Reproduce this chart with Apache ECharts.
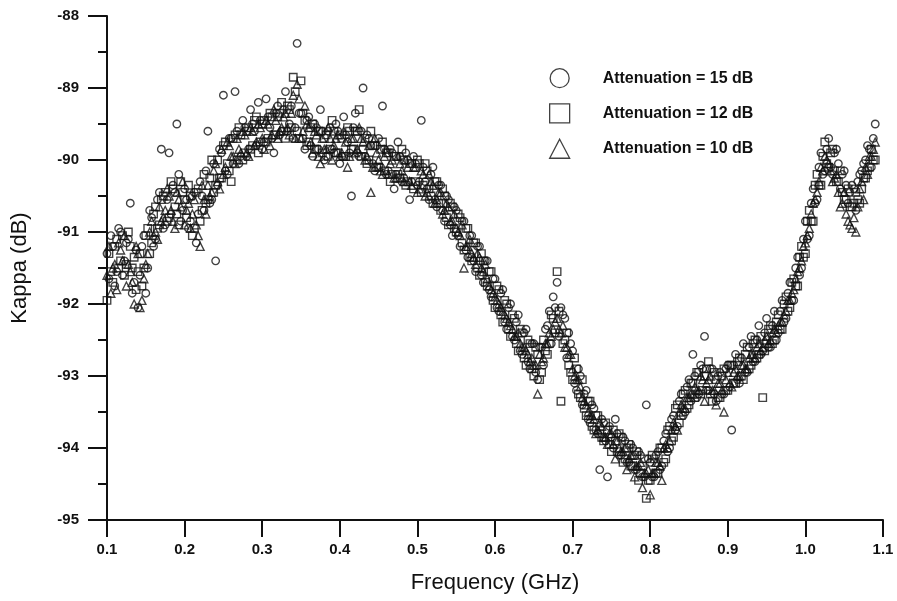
<!DOCTYPE html>
<html>
<head>
<meta charset="utf-8">
<script src="https://cdn.jsdelivr.net/npm/echarts@6/dist/echarts.min.js"></script>
<style>
  html, body { margin: 0; padding: 0; background: #fff; }
  #chart { width: 897px; height: 601px; }
</style>
</head>
<body>
<div id="chart"></div>
<script>
// frequency points (GHz)
const frequency = [
  0.100, 0.105, 0.110, 0.115, 0.120, 0.125, 0.130, 0.135, 0.140, 0.145,
  0.150, 0.155, 0.160, 0.165, 0.170, 0.175, 0.180, 0.185, 0.190, 0.195,
  0.200, 0.205, 0.210, 0.215, 0.220, 0.225, 0.230, 0.235, 0.240, 0.245,
  0.250, 0.255, 0.260, 0.265, 0.270, 0.275, 0.280, 0.285, 0.290, 0.295,
  0.300, 0.305, 0.310, 0.315, 0.320, 0.325, 0.330, 0.335, 0.340, 0.345,
  0.350, 0.355, 0.360, 0.365, 0.370, 0.375, 0.380, 0.385, 0.390, 0.395,
  0.400, 0.405, 0.410, 0.415, 0.420, 0.425, 0.430, 0.435, 0.440, 0.445,
  0.450, 0.455, 0.460, 0.465, 0.470, 0.475, 0.480, 0.485, 0.490, 0.495,
  0.500, 0.505, 0.510, 0.515, 0.520, 0.525, 0.530, 0.535, 0.540, 0.545,
  0.550, 0.555, 0.560, 0.565, 0.570, 0.575, 0.580, 0.585, 0.590, 0.595,
  0.600, 0.605, 0.610, 0.615, 0.620, 0.625, 0.630, 0.635, 0.640, 0.645,
  0.650, 0.655, 0.660, 0.665, 0.670, 0.675, 0.680, 0.685, 0.690, 0.695,
  0.700, 0.705, 0.710, 0.715, 0.720, 0.725, 0.730, 0.735, 0.740, 0.745,
  0.750, 0.755, 0.760, 0.765, 0.770, 0.775, 0.780, 0.785, 0.790, 0.795,
  0.800, 0.805, 0.810, 0.815, 0.820, 0.825, 0.830, 0.835, 0.840, 0.845,
  0.850, 0.855, 0.860, 0.865, 0.870, 0.875, 0.880, 0.885, 0.890, 0.895,
  0.900, 0.905, 0.910, 0.915, 0.920, 0.925, 0.930, 0.935, 0.940, 0.945,
  0.950, 0.955, 0.960, 0.965, 0.970, 0.975, 0.980, 0.985, 0.990, 0.995,
  1.000, 1.005, 1.010, 1.015, 1.020, 1.025, 1.030, 1.035, 1.040, 1.045,
  1.050, 1.055, 1.060, 1.065, 1.070, 1.075, 1.080, 1.085, 1.090
];

// Kappa (dB), attenuation = 15 dB (circles)
const kappa15 = [
  -91.30, -91.05, -91.75, -90.95, -91.60, -91.15, -90.60, -91.70, -92.05, -91.20,
  -91.85, -90.70, -91.20, -90.55, -89.85, -90.90, -89.90, -90.35, -89.50, -90.85,
  -90.40, -90.95, -90.50, -91.15, -90.30, -90.70, -89.60, -90.55, -91.40, -89.85,
  -89.10, -90.20, -89.70, -89.05, -90.05, -89.45, -89.95, -89.30, -89.60, -89.20,
  -89.85, -89.15, -89.55, -89.90, -89.25, -89.60, -89.05, -89.50, -89.70, -88.38,
  -89.35, -89.85, -89.40, -89.95, -89.55, -89.30, -90.00, -89.60, -89.85, -89.50,
  -90.05, -89.40, -89.75, -90.50, -89.35, -89.95, -89.00, -89.65, -89.80, -90.15,
  -89.70, -89.25, -90.20, -89.85, -90.40, -89.75, -90.30, -89.90, -90.55, -89.95,
  -90.35, -89.45, -90.30, -90.55, -90.10, -90.65, -90.35, -90.85, -90.55, -91.05,
  -90.70, -91.20, -90.85, -91.35, -91.05, -91.55, -91.20, -91.70, -91.40, -91.90,
  -91.65, -92.10, -91.80, -92.35, -92.00, -92.50, -92.15, -92.70, -92.35, -92.90,
  -92.55, -93.05, -92.60, -92.35, -92.10, -91.90, -91.70, -92.05, -92.20, -92.40,
  -92.65, -93.20, -93.00, -93.25, -93.60, -93.40, -93.75, -94.30, -93.65, -94.40,
  -93.85, -93.60, -94.10, -93.85, -94.20, -93.95, -94.30, -94.05, -94.40, -93.40,
  -94.20, -94.40, -94.05, -94.25, -93.80, -94.00, -93.55, -93.70, -93.25, -93.50,
  -93.05, -92.70, -93.30, -92.85, -92.45, -93.20, -92.90, -93.35, -92.95, -93.25,
  -92.85, -93.75, -92.70, -93.10, -92.55, -92.95, -92.45, -92.80, -92.30, -92.65,
  -92.20, -92.60, -92.10, -92.40, -91.95, -92.20, -91.70, -91.95, -91.35, -91.50,
  -90.85, -91.05, -90.40, -90.55, -89.90, -90.15, -89.70, -90.20, -89.85, -90.40,
  -90.15, -90.60, -90.35, -90.70, -90.20, -90.05, -89.80, -90.10, -89.50
];

// Kappa (dB), attenuation = 12 dB (squares)
const kappa12 = [
  -91.95, -91.55, -91.20, -91.50, -91.05, -91.45, -91.20, -91.35, -91.55, -91.75,
  -91.05, -91.30, -90.75, -90.95, -90.55, -90.45, -90.80, -90.40, -90.75, -90.30,
  -90.55, -90.35, -91.05, -90.45, -90.85, -90.20, -90.55, -90.00, -90.35, -90.25,
  -89.80, -90.05, -90.30, -89.65, -89.55, -90.00, -89.60, -89.85, -89.45, -89.90,
  -89.50, -89.75, -89.35, -89.65, -89.40, -89.20, -89.70, -89.30, -88.85, -89.60,
  -88.90, -89.45, -89.75, -89.50, -89.85, -89.60, -89.70, -89.95, -89.45, -89.90,
  -89.65, -89.95, -89.55, -89.85, -89.60, -89.30, -89.85, -90.05, -89.60, -89.80,
  -90.10, -89.75, -89.90, -90.30, -89.95, -90.20, -89.85, -90.35, -90.05, -90.40,
  -90.00, -90.45, -90.05, -90.40, -90.60, -90.30, -90.70, -90.50, -90.90, -90.65,
  -91.00, -90.80, -91.25, -90.95, -91.40, -91.15, -91.60, -91.40, -91.75, -91.55,
  -92.05, -91.80, -92.25, -92.00, -92.45, -92.20, -92.65, -92.40, -92.85, -92.55,
  -93.00, -92.70, -92.95, -92.65, -92.55, -92.20, -91.55, -93.35, -92.50, -92.85,
  -93.05, -92.90, -93.30, -93.45, -93.35, -93.70, -93.55, -93.80, -93.90, -93.75,
  -94.05, -93.90, -93.80, -94.20, -94.00, -94.25, -94.10, -94.45, -94.25, -94.70,
  -94.45, -94.15, -94.35, -94.00, -94.15, -93.70, -93.85, -93.40, -93.55, -93.20,
  -93.40, -93.10, -92.95, -93.25, -93.00, -92.80, -93.35, -93.05, -93.30, -92.90,
  -93.20, -92.85, -93.10, -92.75, -93.05, -92.60, -92.85, -92.50, -92.70, -93.30,
  -92.55, -92.30, -92.50, -92.15, -92.35, -91.90, -92.05, -91.65, -91.75, -91.20,
  -91.30, -90.70, -90.85, -90.20, -90.35, -89.75, -90.10, -89.85, -90.30, -90.15,
  -90.55, -90.40, -90.65, -90.45, -90.60, -90.25, -90.15, -89.85, -90.00
];

// Kappa (dB), attenuation = 10 dB (triangles)
const kappa10 = [
  -91.60, -91.85, -91.45, -91.15, -91.40, -91.75, -91.55, -92.00, -91.30, -91.95,
  -91.45, -91.00, -91.05, -91.10, -90.85, -90.70, -90.50, -90.85, -90.45, -90.65,
  -90.90, -90.60, -90.75, -90.90, -91.20, -90.55, -90.35, -90.45, -90.05, -90.40,
  -90.20, -89.75, -89.95, -90.05, -89.85, -89.60, -89.90, -89.55, -89.80, -89.50,
  -89.70, -89.45, -89.80, -89.30, -89.70, -89.55, -89.35, -89.65, -89.10, -88.95,
  -89.70, -89.25, -89.55, -89.90, -89.65, -90.05, -89.85, -89.55, -90.00, -89.70,
  -89.95, -89.60, -90.10, -89.70, -89.90, -89.55, -89.75, -89.95, -90.45, -89.70,
  -90.00, -90.20, -89.85, -90.05, -90.25, -89.95, -90.15, -90.00, -90.30, -90.10,
  -90.45, -90.15, -90.50, -90.20, -90.35, -90.55, -90.45, -90.70, -90.65, -90.85,
  -90.95, -91.05, -91.50, -91.20, -91.30, -91.45, -91.35, -91.55, -91.65, -91.80,
  -91.90, -92.00, -92.10, -92.20, -92.30, -92.45, -92.40, -92.60, -92.65, -92.80,
  -92.85, -93.25, -92.80, -92.55, -92.40, -92.35, -92.20, -92.40, -92.60, -92.70,
  -92.90, -93.05, -93.15, -93.35, -93.50, -93.55, -93.80, -93.65, -93.85, -93.95,
  -93.80, -94.15, -94.00, -94.05, -94.30, -94.10, -94.40, -94.25, -94.55, -94.35,
  -94.65, -94.35, -94.20, -94.45, -93.95, -93.90, -93.65, -93.75, -93.40, -93.45,
  -93.30, -93.25, -93.20, -93.00, -93.35, -93.05, -93.20, -93.40, -93.10, -93.50,
  -92.95, -93.15, -92.90, -93.00, -92.85, -92.90, -92.70, -92.75, -92.55, -92.60,
  -92.45, -92.50, -92.35, -92.30, -92.25, -92.10, -91.95, -91.80, -91.55, -91.40,
  -91.15, -90.95, -90.60, -90.45, -90.10, -89.95, -90.05, -90.30, -90.20, -90.65,
  -90.45, -90.85, -90.95, -91.00, -90.40, -90.55, -90.20, -89.95, -89.75
];

// second sweep, frequencies halfway between the first ones (GHz)
const frequencyMid = [
  0.1025, 0.1075, 0.1125, 0.1175, 0.1225, 0.1275, 0.1325, 0.1375, 0.1425, 0.1475,
  0.1525, 0.1575, 0.1625, 0.1675, 0.1725, 0.1775, 0.1825, 0.1875, 0.1925, 0.1975,
  0.2025, 0.2075, 0.2125, 0.2175, 0.2225, 0.2275, 0.2325, 0.2375, 0.2425, 0.2475,
  0.2525, 0.2575, 0.2625, 0.2675, 0.2725, 0.2775, 0.2825, 0.2875, 0.2925, 0.2975,
  0.3025, 0.3075, 0.3125, 0.3175, 0.3225, 0.3275, 0.3325, 0.3375, 0.3425, 0.3475,
  0.3525, 0.3575, 0.3625, 0.3675, 0.3725, 0.3775, 0.3825, 0.3875, 0.3925, 0.3975,
  0.4025, 0.4075, 0.4125, 0.4175, 0.4225, 0.4275, 0.4325, 0.4375, 0.4425, 0.4475,
  0.4525, 0.4575, 0.4625, 0.4675, 0.4725, 0.4775, 0.4825, 0.4875, 0.4925, 0.4975,
  0.5025, 0.5075, 0.5125, 0.5175, 0.5225, 0.5275, 0.5325, 0.5375, 0.5425, 0.5475,
  0.5525, 0.5575, 0.5625, 0.5675, 0.5725, 0.5775, 0.5825, 0.5875, 0.5925, 0.5975,
  0.6025, 0.6075, 0.6125, 0.6175, 0.6225, 0.6275, 0.6325, 0.6375, 0.6425, 0.6475,
  0.6525, 0.6575, 0.6625, 0.6675, 0.6725, 0.6775, 0.6825, 0.6875, 0.6925, 0.6975,
  0.7025, 0.7075, 0.7125, 0.7175, 0.7225, 0.7275, 0.7325, 0.7375, 0.7425, 0.7475,
  0.7525, 0.7575, 0.7625, 0.7675, 0.7725, 0.7775, 0.7825, 0.7875, 0.7925, 0.7975,
  0.8025, 0.8075, 0.8125, 0.8175, 0.8225, 0.8275, 0.8325, 0.8375, 0.8425, 0.8475,
  0.8525, 0.8575, 0.8625, 0.8675, 0.8725, 0.8775, 0.8825, 0.8875, 0.8925, 0.8975,
  0.9025, 0.9075, 0.9125, 0.9175, 0.9225, 0.9275, 0.9325, 0.9375, 0.9425, 0.9475,
  0.9525, 0.9575, 0.9625, 0.9675, 0.9725, 0.9775, 0.9825, 0.9875, 0.9925, 0.9975,
  1.0025, 1.0075, 1.0125, 1.0175, 1.0225, 1.0275, 1.0325, 1.0375, 1.0425, 1.0475,
  1.0525, 1.0575, 1.0625, 1.0675, 1.0725, 1.0775, 1.0825, 1.0875
];

const kappa15Mid = [
  -91.65, -91.20, -91.55, -91.00, -91.40, -91.10, -91.85, -91.25, -91.60, -91.05,
  -91.50, -90.80, -91.10, -90.45, -90.95, -90.55, -90.75, -90.45, -90.20, -90.70,
  -90.55, -90.85, -90.45, -90.75, -90.50, -90.15, -90.60, -90.05, -90.35, -89.90,
  -90.15, -89.70, -90.05, -89.60, -89.95, -89.55, -89.85, -89.50, -89.80, -89.45,
  -89.75, -89.40, -89.70, -89.35, -89.65, -89.30, -89.60, -89.25, -89.55, -89.35,
  -89.70, -89.45, -89.80, -89.50, -89.85, -89.60, -89.95, -89.55, -89.90, -89.60,
  -89.95, -89.65, -89.90, -89.55, -89.90, -89.60, -89.95, -89.70, -90.05, -89.80,
  -90.10, -89.85, -90.15, -89.90, -90.20, -89.95, -90.25, -90.00, -90.30, -90.05,
  -90.30, -90.10, -90.40, -90.20, -90.55, -90.35, -90.70, -90.50, -90.90, -90.65,
  -91.05, -90.85, -91.25, -91.05, -91.40, -91.20, -91.60, -91.40, -91.80, -91.65,
  -92.05, -91.85, -92.25, -92.05, -92.45, -92.25, -92.65, -92.40, -92.80, -92.55,
  -92.95, -92.60, -92.85, -92.30, -92.55, -92.05, -92.45, -92.15, -92.75, -92.55,
  -93.10, -92.90, -93.40, -93.20, -93.65, -93.45, -93.80, -93.60, -93.90, -93.70,
  -94.00, -93.80, -94.10, -93.90, -94.20, -94.00, -94.30, -94.10, -94.40, -94.15,
  -94.40, -94.10, -94.30, -93.90, -94.05, -93.60, -93.75, -93.35, -93.55, -93.15,
  -93.35, -93.00, -93.25, -92.90, -93.20, -92.90, -93.25, -93.00, -93.25, -92.90,
  -93.15, -92.85, -93.05, -92.75, -92.95, -92.60, -92.80, -92.50, -92.70, -92.40,
  -92.60, -92.30, -92.50, -92.10, -92.25, -91.85, -91.95, -91.50, -91.60, -91.10,
  -91.10, -90.60, -90.60, -90.10, -90.20, -89.85, -90.10, -89.90, -90.05, -90.20,
  -90.35, -90.45, -90.40, -90.30, -90.15, -90.00, -89.85, -89.70
];

const kappa12Mid = [
  -91.30, -91.70, -91.10, -91.40, -91.60, -91.00, -91.50, -91.80, -91.30, -91.50,
  -90.95, -91.15, -90.65, -90.90, -90.50, -90.85, -90.30, -90.65, -90.90, -90.45,
  -90.80, -90.50, -90.95, -90.40, -90.70, -90.60, -90.25, -90.45, -90.00, -90.25,
  -89.75, -90.15, -89.70, -90.00, -89.65, -89.90, -89.55, -89.80, -89.40, -89.75,
  -89.45, -89.70, -89.40, -89.65, -89.35, -89.60, -89.25, -89.55, -89.05, -89.70,
  -89.35, -89.80, -89.55, -89.85, -89.60, -89.90, -89.65, -89.85, -89.60, -89.90,
  -89.70, -89.95, -89.60, -89.85, -89.60, -89.95, -89.70, -90.00, -89.80, -90.10,
  -89.85, -90.15, -89.90, -90.20, -89.95, -90.25, -90.00, -90.30, -90.05, -90.30,
  -90.05, -90.35, -90.15, -90.50, -90.30, -90.60, -90.40, -90.80, -90.60, -90.95,
  -90.75, -91.15, -90.95, -91.35, -91.15, -91.50, -91.30, -91.70, -91.55, -91.95,
  -91.75, -92.15, -91.95, -92.35, -92.15, -92.55, -92.35, -92.75, -92.50, -92.90,
  -92.60, -93.05, -92.50, -92.70, -92.15, -92.40, -92.10, -92.55, -92.40, -92.95,
  -92.75, -93.25, -93.05, -93.55, -93.35, -93.75, -93.55, -93.85, -93.65, -93.95,
  -93.75, -94.05, -93.85, -94.15, -93.95, -94.25, -94.05, -94.35, -94.15, -94.45,
  -94.10, -94.35, -94.00, -94.20, -93.75, -93.90, -93.45, -93.65, -93.25, -93.45,
  -93.10, -93.30, -92.95, -93.20, -92.90, -93.25, -92.95, -93.30, -93.00, -93.20,
  -92.85, -93.10, -92.80, -93.00, -92.70, -92.90, -92.55, -92.75, -92.45, -92.65,
  -92.35, -92.55, -92.25, -92.35, -92.00, -92.10, -91.70, -91.75, -91.35, -91.35,
  -90.85, -90.85, -90.35, -90.35, -89.95, -90.05, -89.90, -90.15, -90.30, -90.45,
  -90.55, -90.65, -90.60, -90.55, -90.40, -90.25, -90.10, -90.00
];

const kappa10Mid = [
  -91.20, -91.50, -91.80, -91.25, -91.05, -91.45, -91.70, -91.20, -92.05, -91.65,
  -91.30, -90.85, -91.00, -90.65, -90.80, -90.40, -90.70, -90.95, -90.55, -90.30,
  -90.70, -90.95, -90.55, -91.05, -90.35, -90.75, -90.50, -90.15, -90.30, -89.85,
  -90.10, -89.80, -89.95, -89.70, -89.90, -89.65, -89.95, -89.60, -89.75, -89.55,
  -89.85, -89.50, -89.65, -89.45, -89.60, -89.40, -89.55, -89.35, -89.70, -89.15,
  -89.60, -89.50, -89.75, -89.60, -89.95, -89.70, -89.85, -89.70, -89.80, -89.65,
  -89.90, -89.75, -89.95, -89.70, -89.85, -89.70, -90.00, -89.80, -90.10, -89.90,
  -90.15, -89.95, -90.20, -90.00, -90.25, -90.05, -90.30, -90.10, -90.35, -90.10,
  -90.40, -90.20, -90.45, -90.30, -90.60, -90.45, -90.75, -90.60, -90.85, -90.75,
  -91.00, -90.90, -91.20, -91.10, -91.35, -91.30, -91.50, -91.45, -91.75, -91.85,
  -91.95, -92.05, -92.15, -92.25, -92.35, -92.45, -92.55, -92.60, -92.70, -92.75,
  -92.85, -92.70, -92.75, -92.55, -92.45, -92.25, -92.35, -92.30, -92.60, -92.70,
  -93.00, -93.05, -93.30, -93.40, -93.55, -93.60, -93.75, -93.70, -93.85, -93.80,
  -93.95, -93.90, -94.05, -94.00, -94.15, -94.10, -94.25, -94.20, -94.35, -94.30,
  -94.35, -94.20, -94.25, -94.00, -94.00, -93.75, -93.70, -93.50, -93.45, -93.30,
  -93.25, -93.15, -93.20, -93.05, -93.10, -93.00, -93.20, -93.10, -93.20, -93.05,
  -93.10, -92.95, -93.00, -92.85, -92.90, -92.75, -92.70, -92.60, -92.65, -92.50,
  -92.55, -92.40, -92.40, -92.25, -92.15, -91.95, -91.85, -91.65, -91.50, -91.20,
  -91.05, -90.75, -90.55, -90.30, -90.15, -90.00, -90.15, -90.25, -90.45, -90.60,
  -90.75, -90.90, -90.80, -90.65, -90.30, -90.10, -89.95, -89.85
];

const seriesNames = ['Attenuation = 15 dB', 'Attenuation = 12 dB', 'Attenuation = 10 dB'];
const seriesValues = [kappa15, kappa12, kappa10];
const seriesValuesMid = [kappa15Mid, kappa12Mid, kappa10Mid];
const seriesSymbols = ['circle', 'rect', 'triangle'];

const font = '"Liberation Sans", Arial, sans-serif';

const series = seriesNames.map((name, i) => ({
  name: name,
  type: 'scatter',
  symbol: seriesSymbols[i],
  symbolSize: i === 2 ? 8 : 7.5,
  data: frequency.map((f, j) => [f, seriesValues[i][j]])
    .concat(frequencyMid.map((f, j) => [f, seriesValuesMid[i][j]])),
  itemStyle: { color: 'rgba(255,255,255,0)', borderColor: '#111', borderWidth: 1.35 }
}));

const chart = echarts.init(document.getElementById('chart'), null, { renderer: 'canvas' });
chart.setOption({
  backgroundColor: '#fff',
  animation: false,
  grid: { left: 107, right: 14, top: 16, bottom: 81 },
  legend: {
    orient: 'vertical',
    left: 544,
    top: 63,
    itemWidth: 20,
    itemHeight: 19,
    itemGap: 15,
    itemStyle: { color: 'rgba(255,255,255,0)', borderColor: '#111', borderWidth: 1.3 },
    textStyle: { fontFamily: font, fontSize: 16, fontWeight: 'bold', color: '#111', padding: [0, 0, 0, 28] },
    data: seriesNames
  },
  xAxis: {
    type: 'value',
    min: 0.1,
    max: 1.1,
    interval: 0.1,
    name: 'Frequency (GHz)',
    nameLocation: 'middle',
    nameGap: 52,
    nameTextStyle: { fontFamily: font, fontSize: 22, color: '#111' },
    axisLine: { onZero: false, lineStyle: { color: '#111', width: 2 } },
    axisTick: { length: 17, lineStyle: { color: '#111', width: 2 } },
    splitLine: { show: false },
    axisLabel: {
      fontFamily: font, fontSize: 15, fontWeight: 'bold', color: '#111', margin: 22,
      formatter: v => v.toFixed(1)
    }
  },
  yAxis: {
    type: 'value',
    min: -95,
    max: -88,
    interval: 1,
    name: 'Kappa (dB)',
    nameLocation: 'middle',
    nameGap: 76,
    nameTextStyle: { fontFamily: font, fontSize: 22, color: '#111' },
    axisLine: { show: true, onZero: false, lineStyle: { color: '#111', width: 2 } },
    axisTick: { show: true, length: 19, lineStyle: { color: '#111', width: 2 } },
    minorTick: { show: true, splitNumber: 2, length: 9, lineStyle: { color: '#111', width: 2 } },
    splitLine: { show: false },
    axisLabel: { fontFamily: font, fontSize: 15, fontWeight: 'bold', color: '#111', margin: 28 }
  },
  series: series
});
</script>
</body>
</html>
